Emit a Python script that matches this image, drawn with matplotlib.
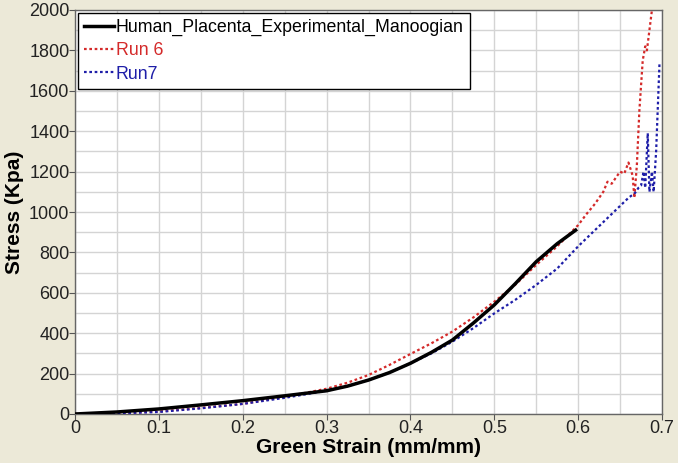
import matplotlib
matplotlib.use("Agg")
import matplotlib.pyplot as plt
from matplotlib.ticker import MultipleLocator, FuncFormatter

plt.rcParams['font.family'] = ['Liberation Sans', 'DejaVu Sans']

exp_x = [0.0, 0.05, 0.1, 0.15, 0.2, 0.25, 0.3, 0.325, 0.35, 0.375, 0.4, 0.425, 0.45, 0.475,
         0.5, 0.525, 0.55, 0.575, 0.597]
exp_y = [0, 10, 25, 45, 66, 90, 115, 138, 168, 205, 251, 305, 366, 450,
         540, 645, 754, 843, 910]

run6_x = [0.0, 0.05, 0.1, 0.15, 0.2, 0.25, 0.3, 0.325, 0.35, 0.375, 0.4, 0.425, 0.45, 0.475,
          0.5, 0.525, 0.55, 0.575, 0.6,
          0.61, 0.62, 0.63, 0.635, 0.64, 0.645, 0.65, 0.655, 0.66, 0.665, 0.667, 0.67,
          0.673, 0.677, 0.68, 0.682, 0.685, 0.688]
run6_y = [0, 4, 12, 30, 50, 85, 125, 155, 193, 243, 297, 350, 408, 478,
          556, 640, 738, 830, 935,
          990, 1040, 1100, 1150, 1140, 1170, 1200, 1190, 1245, 1180, 1070, 1230,
          1500, 1750, 1820, 1800, 1900, 2000]

run7_x = [0.0, 0.05, 0.1, 0.15, 0.2, 0.25, 0.3, 0.325, 0.35, 0.375, 0.4, 0.425, 0.45, 0.475,
          0.5, 0.525, 0.55, 0.575, 0.6,
          0.62, 0.64, 0.66, 0.668, 0.672, 0.675, 0.678, 0.68, 0.683, 0.685, 0.688,
          0.69, 0.693, 0.697]
run7_y = [0, 3, 10, 28, 50, 80, 115, 138, 168, 205, 251, 300, 358, 425,
          498, 565, 639, 720, 830,
          910, 990, 1070, 1095, 1120, 1130, 1200, 1120, 1390, 1100, 1200,
          1100, 1300, 1735]

bg = '#ECE9D8'
red = '#D42A2A'
blue = '#1E1EA8'
fig = plt.figure(figsize=(6.78, 4.63), dpi=100, facecolor=bg)
ax = fig.add_axes([75/678, 1-414/463, 587/678, 404/463])
ax.set_facecolor('white')

ax.plot(exp_x, exp_y, color='black', lw=2.5, label='Human_Placenta_Experimental_Manoogian', zorder=4)
ax.plot(run6_x, run6_y, color=red, lw=1.6, ls=(0, (1.2, 1.2)), label='Run 6', zorder=3)
ax.plot(run7_x, run7_y, color=blue, lw=1.6, ls=(0, (1.2, 1.2)), label='Run7', zorder=3)

ax.set_xlim(0, 0.7)
ax.set_ylim(0, 2000)
ax.xaxis.set_major_locator(MultipleLocator(0.1))
ax.xaxis.set_minor_locator(MultipleLocator(0.05))
ax.yaxis.set_major_locator(MultipleLocator(200))
ax.yaxis.set_minor_locator(MultipleLocator(100))
ax.xaxis.set_major_formatter(FuncFormatter(lambda v, p: '0' if abs(v) < 1e-9 else f'{v:.1f}'))
ax.grid(which='both', color='#D4D4D4', lw=1.0)
ax.set_axisbelow(True)
ax.tick_params(which='major', length=4, color='#555555', labelsize=13, labelcolor='#222222', direction='out')
ax.tick_params(which='minor', length=0)
ax.tick_params(axis='x', pad=0)
ax.tick_params(axis='y', pad=0)
for s in ax.spines.values():
    s.set_color('#666666')
    s.set_linewidth(1.0)

ax.set_xlabel('Green Strain (mm/mm)', fontsize=15, fontweight='bold', labelpad=1)
ax.set_ylabel('Stress (Kpa)', fontsize=15, fontweight='bold', labelpad=4)

leg = ax.legend(loc='upper left', fontsize=12.8, frameon=True, fancybox=False,
                edgecolor='black', framealpha=1, borderpad=0.35, labelspacing=0.35,
                handlelength=1.7, handletextpad=0.1, borderaxespad=0.15)
leg.get_frame().set_linewidth(1.0)
for txt, c in zip(leg.get_texts(), ['black', red, blue]):
    txt.set_color(c)

fig.savefig('out.png', dpi=100, facecolor=bg)
